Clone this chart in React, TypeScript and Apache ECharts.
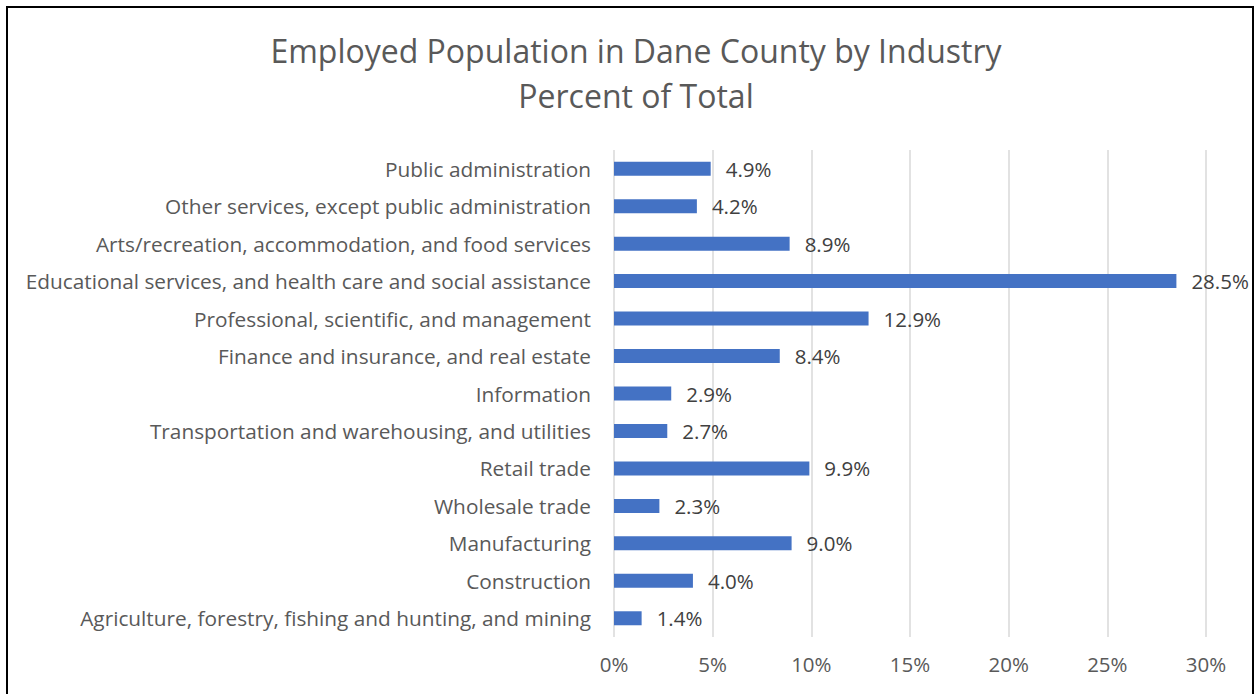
import React, { useEffect, useRef } from "react";
import * as echarts from "echarts";

const categories = [
  "Public administration",
  "Other services, except public administration",
  "Arts/recreation, accommodation, and food services",
  "Educational services, and health care and social assistance",
  "Professional, scientific, and management",
  "Finance and insurance, and real estate",
  "Information",
  "Transportation and warehousing, and utilities",
  "Retail trade",
  "Wholesale trade",
  "Manufacturing",
  "Construction",
  "Agriculture, forestry, fishing and hunting, and mining",
];
const values = [4.9, 4.2, 8.9, 28.5, 12.9, 8.4, 2.9, 2.7, 9.9, 2.3, 9.0, 4.0, 1.4];
const titleLines = ["Employed Population in Dane County by Industry", "Percent of Total"];

const FONT = "'Open Sans', sans-serif";

export default function App() {
  const ref = useRef<HTMLDivElement>(null);
  useEffect(() => {
    document.body.style.margin = "0";
    const chart = echarts.init(ref.current!, null, { renderer: "svg" });
    chart.setOption({
      animation: false,
      backgroundColor: "#ffffff",
      textStyle: { fontFamily: FONT },
      title: {
        text: titleLines.join("\n"),
        left: 631,
        textAlign: "center",
        top: 23,
        textStyle: {
          fontFamily: FONT,
          fontSize: 32,
          fontWeight: "normal",
          color: "#595959",
          lineHeight: 45,
        },
      },
      graphic: [
        {
          type: "rect",
          shape: { x: 7, y: 7, width: 1246, height: 720 },
          style: { fill: "none", stroke: "#000000", lineWidth: 2 },
          silent: true,
        },
      ],
      grid: { left: 614, right: 49, top: 150, bottom: 57, containLabel: false },
      xAxis: {
        type: "value",
        min: 0,
        max: 30,
        interval: 5,
        axisLine: { show: false },
        axisTick: { show: false },
        splitLine: { show: true, lineStyle: { color: "#d9d9d9", width: 1.5 } },
        axisLabel: {
          formatter: "{value}%",
          color: "#595959",
          fontSize: 20.5,
          fontFamily: FONT,
          margin: 16,
        },
      },
      yAxis: {
        type: "category",
        data: categories,
        inverse: true,
        axisLine: { show: false },
        axisTick: { show: false },
        axisLabel: {
          color: "#595959",
          fontSize: 20.8,
          fontFamily: FONT,
          margin: 23,
        },
      },
      series: [
        {
          type: "bar",
          data: values,
          barWidth: 14,
          itemStyle: { color: "#4472C4" },
          label: {
            show: true,
            position: "right",
            distance: 15,
            formatter: (p: any) => Number(p.value).toFixed(1) + "%",
            color: "#404040",
            fontSize: 20.5,
            fontFamily: FONT,
          },
        },
      ],
    });
    return () => chart.dispose();
  }, []);
  return <div ref={ref} style={{ width: 1255, height: 694 }} />;
}
